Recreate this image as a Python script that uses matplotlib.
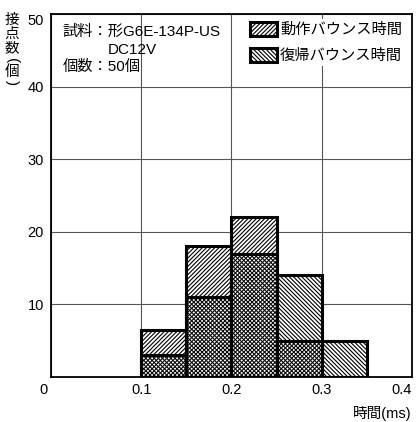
import matplotlib
matplotlib.use('Agg')
import matplotlib.pyplot as plt
import matplotlib.transforms as mtransforms
import numpy as np

plt.rcParams['font.family'] = ['Liberation Sans', 'Noto Sans CJK JP']
plt.rcParams['hatch.linewidth'] = 0.8

# histogram data (count per 0.05 ms bin)
bin_left = [0.10, 0.15, 0.20, 0.25, 0.30]
bin_width = 0.05
operate_count = [6.5, 18, 22, 5, 0]
release_count = [3, 11, 17, 14, 5]
x_ticks = [0, 0.1, 0.2, 0.3, 0.4]
x_tick_labels = ['0', '0.1', '0.2', '0.3', '0.4']
y_ticks = [10, 20, 30, 40, 50]

fig = plt.figure(figsize=(4.16, 4.22), dpi=100)
ax = fig.add_axes([0.1226, 0.1066, 0.8674, 0.8602])

# white under the bars so the grid doesn't show through
top = np.maximum(operate_count, release_count)
ax.bar(bin_left, top, width=bin_width, align='edge', color='white',
       edgecolor='none', zorder=2)
op = ax.bar(bin_left, operate_count, width=bin_width, align='edge',
            facecolor='none', edgecolor='black', linewidth=2.2,
            hatch='////////', zorder=3, label='動作バウンス時間')
re = ax.bar(bin_left, release_count, width=bin_width, align='edge',
            facecolor='none', edgecolor='black', linewidth=2.2,
            hatch='\\\\\\\\\\\\\\\\', zorder=3, label='復帰バウンス時間')

ax.set_xlim(0, 0.4)
ax.set_ylim(0, 50)
ax.set_xticks(x_ticks, x_tick_labels)
ax.set_yticks(y_ticks)
ax.tick_params(length=0, labelsize=10.5)
ax.tick_params(axis='x', pad=4)
ax.tick_params(axis='y', pad=5)
ax.set_axisbelow(True)
ax.grid(True, color='#555555', linewidth=0.8)
for s in ax.spines.values():
    s.set_linewidth(1.3)

# shift corner labels like the original
lbls = ax.get_xticklabels()
lbls[0].set_transform(lbls[0].get_transform() + mtransforms.ScaledTranslation(-8/100, 0, fig.dpi_scale_trans))
lbls[-1].set_transform(lbls[-1].get_transform() + mtransforms.ScaledTranslation(-10/100, 0, fig.dpi_scale_trans))
ylbls = ax.get_yticklabels()
ylbls[-1].set_transform(ylbls[-1].get_transform() + mtransforms.ScaledTranslation(0, -5/100, fig.dpi_scale_trans))

ax.legend(handles=[op, re], loc='upper left', bbox_to_anchor=(0.543, 0.986),
          fontsize=11, frameon=True, facecolor='white', edgecolor='none',
          framealpha=1, fancybox=False, borderpad=0.2, borderaxespad=0,
          handlelength=1.77, handleheight=1.0, handletextpad=0.2,
          labelspacing=0.7)

ax.text(0.033, 0.950, '試料：形G6E-134P-US', transform=ax.transAxes,
        fontsize=11, va='center')
ax.text(0.158, 0.901, 'DC12V', transform=ax.transAxes, fontsize=11, va='center')
ax.text(0.033, 0.854, '個数：50個', transform=ax.transAxes, fontsize=11, va='center')

fig.text(0.990, 0.021, '時間(ms)', ha='right', va='center', fontsize=10.5)

# vertical y label: glyphs stacked, brackets turned on their side
ylabel_chars = ['接', '点', '数', '(', '個', ')']
ylabel_y = [20, 34, 48, 61, 72, 83]
for ch, yy in zip(ylabel_chars, ylabel_y):
    if ch in '()':
        fig.text(12/416, 1 - yy/422, ch, ha='center', va='center',
                 fontsize=11, rotation=-90, family='Liberation Sans')
    else:
        fig.text(12/416, 1 - yy/422, ch, ha='center', va='center',
                 fontsize=10.5, family='Noto Sans CJK JP')

fig.savefig('out.png', dpi=100)
